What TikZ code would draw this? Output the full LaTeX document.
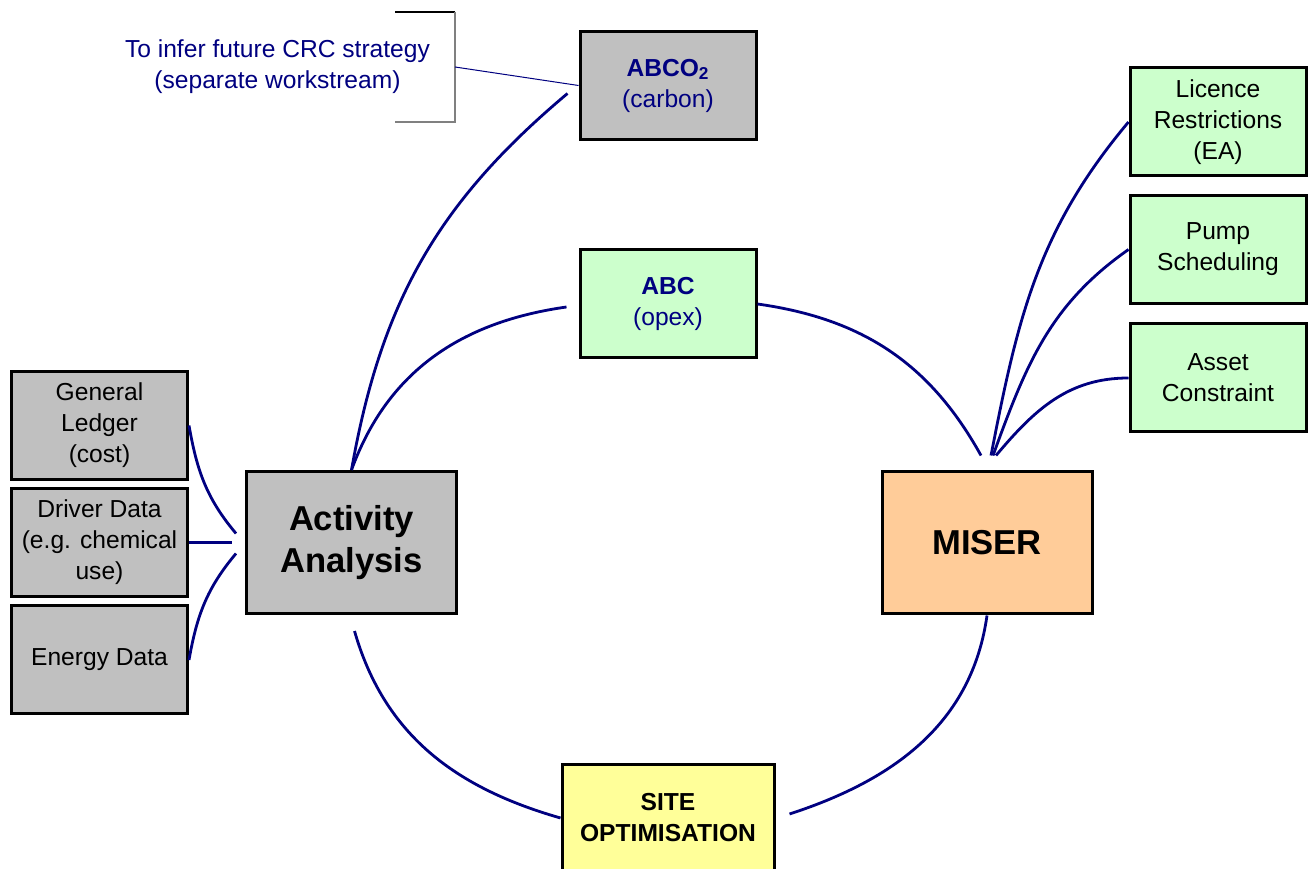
\documentclass[tikz,border=0pt]{standalone}
\usepackage{fontspec}
\setmainfont{Liberation Sans}
\usetikzlibrary{calc}

\definecolor{boxgray}{HTML}{C0C0C0}
\definecolor{boxgreen}{HTML}{CCFFCC}
\definecolor{boxorange}{HTML}{FFCC99}
\definecolor{boxyellow}{HTML}{FFFF99}
\definecolor{linknavy}{HTML}{000080}

\begin{document}
\begin{tikzpicture}[x=0.5pt, y=0.5pt,
    box/.style={draw, line width=1.5pt, minimum width=88pt, minimum height=54pt,
        inner sep=0pt, align=center, font=\fontsize{12.3}{15.5}\selectfont},
    bigbox/.style={box, minimum width=105pt, minimum height=71pt,
        font=\fontsize{17.3}{21.2}\selectfont\bfseries},
    link/.style={linknavy, line width=1.4pt},
    note/.style={linknavy, align=center, font=\fontsize{12.3}{15.5}\selectfont}]
    \useasboundingbox (0,0) rectangle (1312,868);

    % Activity Analysis and its inputs
    \node[bigbox, fill=boxgray] (activity) at (351.5,325.5) {Activity\\Analysis};
    \node[box, fill=boxgray] (ledger) at (99.5,442.5) {General\\Ledger\\(cost)};
    \node[box, fill=boxgray] (driver) at (99.5,325.5) {Driver Data\\(e.g. chemical\\use)};
    \node[box, fill=boxgray] (energy) at (99.5,208) {Energy Data};

    % ABC models
    \node[box, fill=boxgray, text=linknavy] (abco) at (668,782.5) {\textbf{ABCO\textsubscript{2}}\\(carbon)};
    \node[box, fill=boxgreen, text=linknavy] (abc) at (668,564) {\textbf{ABC}\\(opex)};

    % MISER and its inputs
    \node[bigbox, fill=boxorange] (miser) at (987,325) {MISER};
    \node[box, fill=boxgreen] (licence) at (1218,746) {Licence\\Restrictions\\(EA)};
    \node[box, fill=boxgreen] (pump) at (1218,618.5) {Pump\\Scheduling};
    \node[box, fill=boxgreen] (asset) at (1218,490) {Asset\\Constraint};

    % Site optimisation
    \node[box, fill=boxyellow, minimum width=106pt, font=\fontsize{12.3}{15.5}\selectfont\bfseries]
        (site) at (668,50) {SITE\\OPTIMISATION};

    % Note on carbon
    \node[note] (crc) at (277.5,801) {To infer future CRC strategy\\(separate workstream)};
    \draw[line width=0.6pt] (395,856) -- (455,856);
    \draw[gray, line width=0.8pt] (455,856) -- (455,746) -- (395,746);
    \coordinate (brk) at (455,801);
    \draw[linknavy, line width=0.5pt] (brk) -- (abco.west);

    % Links
    \draw[link] (activity.north) to[out=80, in=220] ($(abco.west)+(-11,-8)$);
    \draw[link] (activity.north) to[out=70, in=188] ($(abc.west)+(-12,-3)$);
    \draw[link] ($(activity.south)+(3,-16)$) to[out=-74, in=164] (site.west);
    \draw[link] (miser.south) to[out=-98, in=18] ($(site.east)+(14,4)$);
    \draw[link] (abc.east) to[out=-8, in=119] ($(miser.north)+(-6,15)$);
    \draw[link] ($(miser.north)+(4,15)$) to[out=79, in=230] (licence.west);
    \draw[link] ($(miser.north)+(6,15)$) to[out=70, in=215] (pump.west);
    \draw[link] ($(miser.north)+(9,15)$) to[out=50, in=180] (asset.west);
    \draw[link] (ledger.east) to[out=-80, in=130] ($(activity.west)+(-9,9)$);
    \draw[link] (driver.east) -- ($(activity.west)+(-13,0)$);
    \draw[link] (energy.east) to[out=80, in=230] ($(activity.west)+(-9,-11)$);
\end{tikzpicture}
\end{document}
